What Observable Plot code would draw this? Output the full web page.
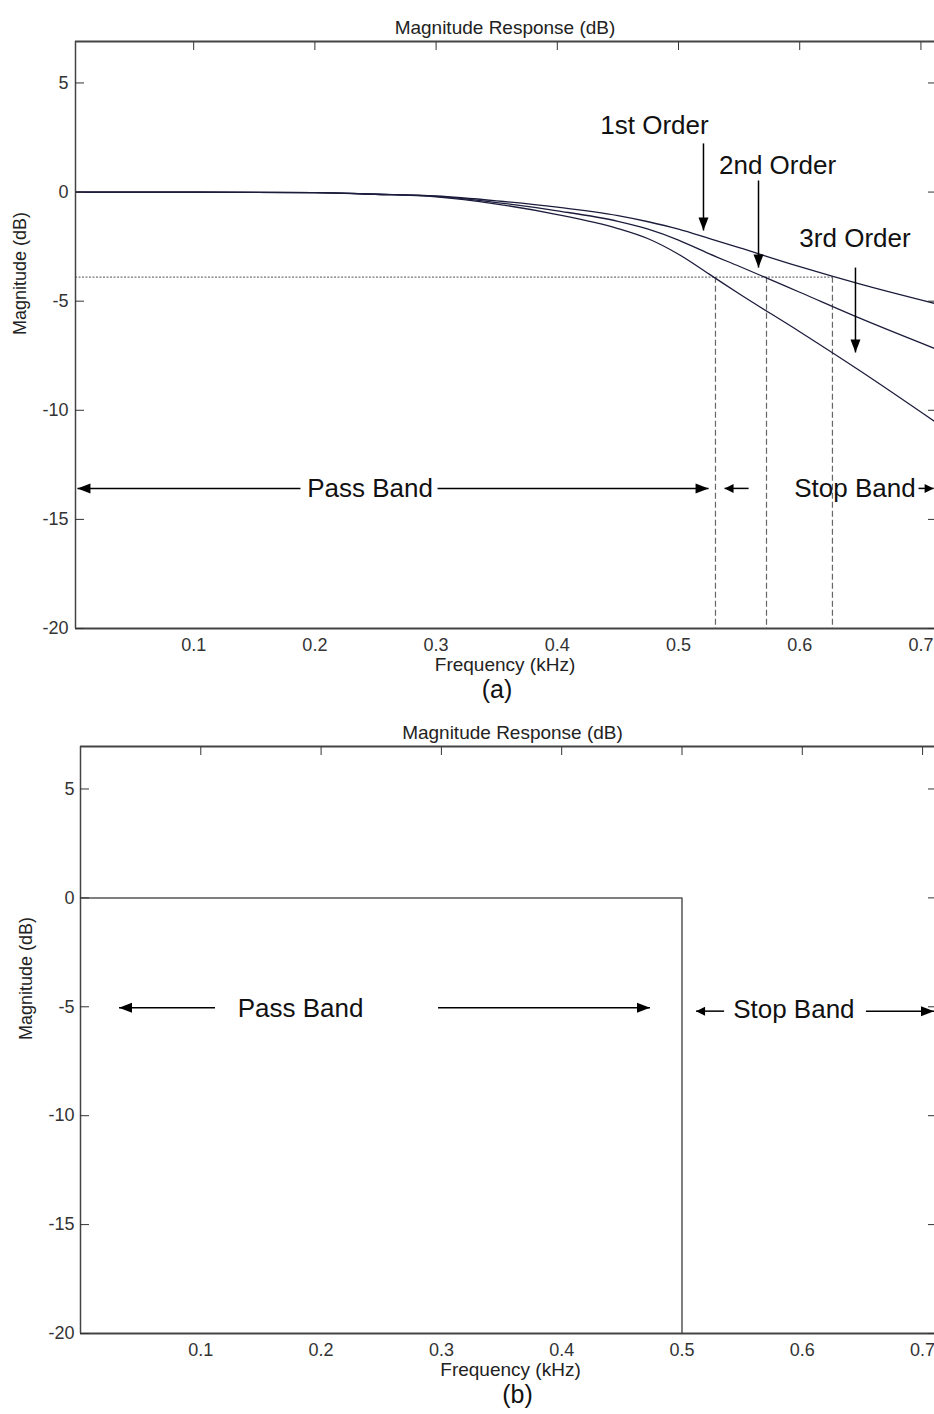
<!DOCTYPE html>
<html>
<head>
<meta charset="utf-8">
<script src="https://cdn.jsdelivr.net/npm/d3@7"></script>
<script src="https://cdn.jsdelivr.net/npm/@observablehq/plot@0.6"></script>
<style>
  body { margin: 0; background: #fff; }
  #chart { width: 934px; overflow: hidden; }
  #chart svg { display: block; }
</style>
</head>
<body>
<div id="chart"></div>
<script>
// ---------- data ----------
const freq   = [0.003, 0.1, 0.2, 0.25, 0.3, 0.35, 0.4, 0.45, 0.475, 0.5, 0.525, 0.55, 0.6, 0.65, 0.711];
const order1 = [0, 0, -0.03, -0.1, -0.18, -0.4, -0.69, -1.08, -1.36, -1.7, -2.12, -2.55, -3.42, -4.22, -5.1];
const order2 = [0, 0, -0.03, -0.1, -0.2, -0.48, -0.86, -1.34, -1.7, -2.2, -2.82, -3.4, -4.59, -5.79, -7.16];
const order3 = [0, 0, -0.03, -0.1, -0.22, -0.55, -1.03, -1.67, -2.14, -2.85, -3.75, -4.66, -6.4, -8.2, -10.5];
const seriesNames = ["1st Order", "2nd Order", "3rd Order"];

const cutoffDb = -3.9;
const cutoffFreq = [0.5305, 0.5726, 0.627];   // 3rd, 2nd, 1st order -3.9 dB points

const idealFreq = [0, 0.5, 0.5];
const idealDb   = [0, 0, -20];

const xTicks = [0.1, 0.2, 0.3, 0.4, 0.5, 0.6, 0.7];
const yTicks = [5, 0, -5, -10, -15, -20];

const titleText = "Magnitude Response (dB)";
const xLabelText = "Frequency (kHz)";
const yLabelText = "Magnitude (dB)";

// ---------- annotations (data units) ----------
const orderLabelF   = [0.4802, 0.5817, 0.6456];
const orderLabelDb  = [3.05, 1.22, -2.13];
const orderArrowF   = [0.5206, 0.566, 0.646];
const orderArrowTop = [2.23, 0.53, -3.46];
const orderArrowTip = [-1.76, -3.46, -7.35];

// band arrows: [from, to, dB]
const bandArrowsA = [[0.1881, 0.0041, -13.58], [0.3012, 0.5248, -13.58], [0.5578, 0.538, -13.58], [0.698, 0.7105, -13.58]];
const bandTextsA  = [["Pass Band", 0.2455, -13.58], ["Stop Band", 0.6456, -13.58]];
const bandArrowsB = [[0.1118, 0.032, -5.05], [0.2972, 0.4734, -5.05], [0.535, 0.5117, -5.2], [0.6529, 0.7095, -5.2]];
const bandTextsB  = [["Pass Band", 0.1829, -5.1], ["Stop Band", 0.593, -5.15]];

// ---------- helpers ----------
const fontFamily = "'Liberation Sans', Arial, Helvetica, sans-serif";
const head = (len, half) => ({draw(ctx) { ctx.moveTo(0, 0); ctx.lineTo(-half, -len); ctx.lineTo(half, -len); ctx.closePath(); }});
const bigHead = head(13, 5);
const smallHead = head(9, 4.5);

function hArrows(list) {
  const rows = list.map(([a, b, db]) => ({x1: a, x2: b, y: db, rot: b < a ? 90 : -90, small: Math.abs(b - a) < 0.03}));
  return [
    Plot.link(rows, {x1: "x1", x2: "x2", y1: "y", y2: "y", stroke: "#000", strokeWidth: 1.5}),
    Plot.dot(rows.filter(d => !d.small), {x: "x2", y: "y", symbol: bigHead, rotate: "rot", fill: "#000", stroke: "none"}),
    Plot.dot(rows.filter(d => d.small), {x: "x2", y: "y", symbol: smallHead, rotate: "rot", fill: "#000", stroke: "none"})
  ];
}

function frameMarks(x0, x1, yTop, extra) {
  return [
    Plot.ruleX([x0], {stroke: "#444", strokeWidth: 1.5}),
    Plot.ruleY([yTop], {stroke: "#444", strokeWidth: 2}),
    Plot.ruleY([-20], {stroke: "#444", strokeWidth: 2}),
    Plot.axisX({anchor: "bottom", ticks: xTicks, tickSize: 0, tickPadding: 10, tickFormat: d => d.toFixed(1), label: null, fill: "#333"}),
    Plot.axisX({anchor: "top", ticks: xTicks, tickSize: -8, tickFormat: () => "", label: null, stroke: "#333"}),
    Plot.axisY({anchor: "left", ticks: yTicks, tickSize: 0, tickPadding: extra.yPad, tickFormat: d => String(d), label: null, fill: "#333"}),
    Plot.axisY({anchor: "left", ticks: yTicks, tickSize: -9, tickFormat: () => "", label: null, stroke: "#333"}),
    Plot.axisY({anchor: "right", ticks: yTicks, tickSize: -7, tickFormat: () => "", label: null, stroke: "#333"}),
    Plot.text([titleText], {frameAnchor: "top", text: d => d, dy: extra.titleDy, dx: extra.titleDx, fontSize: 19, fill: "#222"}),
    Plot.text([xLabelText], {frameAnchor: "bottom", text: d => d, dy: 42, dx: extra.xlabDx, fontSize: 19, fill: "#222"}),
    Plot.text([extra.tag], {frameAnchor: "bottom", text: d => d, dy: 69, dx: extra.tagDx, fontSize: 25, fill: "#111"}),
    Plot.text([yLabelText], {frameAnchor: "left", text: d => d, rotate: -90, dx: extra.ylabDx, fontSize: 18, fill: "#222"})
  ];
}

// ---------- panel (a) ----------
const curveRows = [];
[order1, order2, order3].forEach((arr, i) => arr.forEach((v, j) => curveRows.push({series: seriesNames[i], f: freq[j], db: v})));

const xDomA = [0.0025, 0.7112];
const yDomA = [-20, 6.9];

const plotA = Plot.plot({
  width: 934, height: 712,
  marginTop: 41, marginBottom: 84, marginLeft: 75, marginRight: 0,
  style: {fontFamily, fontSize: "18px", background: "#fff", overflow: "visible"},
  x: {domain: xDomA},
  y: {domain: yDomA},
  marks: [
    Plot.ruleY([cutoffDb], {x1: xDomA[0], x2: cutoffFreq[2], stroke: "#777", strokeWidth: 1.2, strokeDasharray: "2,1.5"}),
    Plot.ruleX(cutoffFreq, {y1: cutoffDb, y2: -20, stroke: "#666", strokeWidth: 1.2, strokeDasharray: "6,3"}),
    Plot.line(curveRows, {x: "f", y: "db", z: "series", stroke: "#1c1c3c", strokeWidth: 1.3, curve: "monotone-x"}),
    ...frameMarks(xDomA[0], xDomA[1], yDomA[1], {yPad: 7, titleDy: -21, titleDx: 0, xlabDx: 0, tag: "(a)", tagDx: -8, ylabDx: -55}),
    Plot.text(seriesNames, {x: (d, i) => orderLabelF[i], y: (d, i) => orderLabelDb[i], text: d => d, fontSize: 26, fill: "#111"}),
    Plot.link(seriesNames, {x1: (d, i) => orderArrowF[i], x2: (d, i) => orderArrowF[i], y1: (d, i) => orderArrowTop[i], y2: (d, i) => orderArrowTip[i], stroke: "#000", strokeWidth: 1.5}),
    Plot.dot(seriesNames, {x: (d, i) => orderArrowF[i], y: (d, i) => orderArrowTip[i], symbol: bigHead, fill: "#000", stroke: "none"}),
    ...hArrows(bandArrowsA),
    Plot.text(bandTextsA, {x: d => d[1], y: d => d[2], text: d => d[0], fontSize: 26, fill: "#111"})
  ]
});

// ---------- panel (b) ----------
const idealRows = idealFreq.map((f, i) => ({f, db: idealDb[i]}));
const xDomB = [0, 0.7099];
const yDomB = [-20, 6.95];

const plotB = Plot.plot({
  width: 934, height: 702,
  marginTop: 34, marginBottom: 81, marginLeft: 80, marginRight: 0,
  style: {fontFamily, fontSize: "18px", background: "#fff", overflow: "visible"},
  x: {domain: xDomB},
  y: {domain: yDomB},
  marks: [
    Plot.line(idealRows, {x: "f", y: "db", stroke: "#555", strokeWidth: 1.5}),
    ...frameMarks(xDomB[0], xDomB[1], yDomB[1], {yPad: 6, titleDy: -21, titleDx: 5, xlabDx: 3, tag: "(b)", tagDx: 10, ylabDx: -54}),
    ...hArrows(bandArrowsB),
    Plot.text(bandTextsB, {x: d => d[1], y: d => d[2], text: d => d[0], fontSize: 26, fill: "#111"})
  ]
});

const chart = document.getElementById("chart");
chart.appendChild(plotA);
chart.appendChild(plotB);
</script>
</body>
</html>
